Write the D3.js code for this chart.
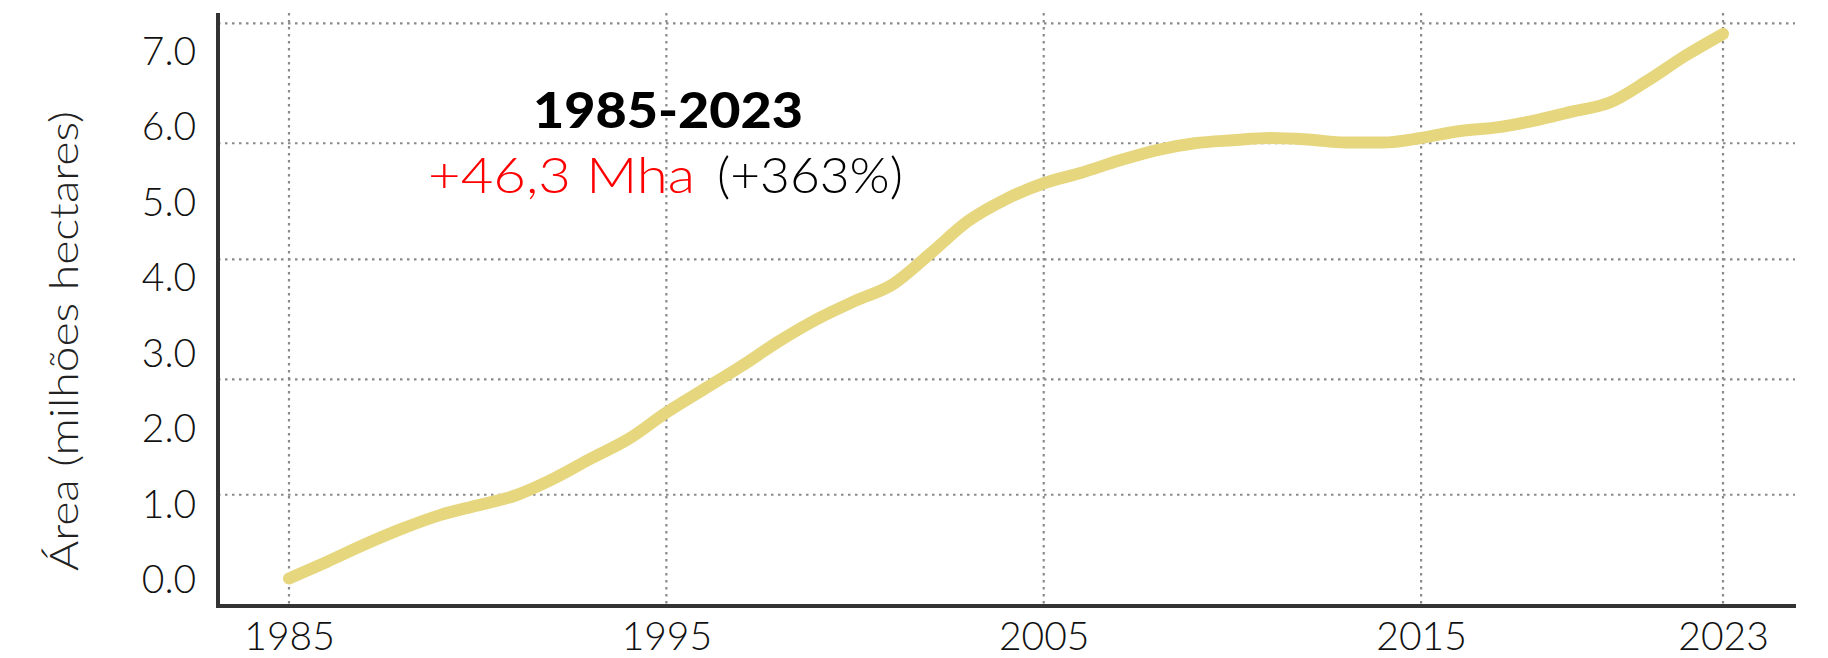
<!DOCTYPE html>
<html>
<head>
<meta charset="utf-8">
<script src="https://cdn.jsdelivr.net/npm/d3@7"></script>
<style>
  html, body { margin: 0; padding: 0; background: #fff; }
  svg { display: block; }
  text { font-family: "Lato", "Open Sans", "DejaVu Sans", sans-serif; }
</style>
</head>
<body>
<svg id="chart" width="1828" height="658"></svg>
<script>
// ---- data ----
const years = [1985,1986,1987,1988,1989,1990,1991,1992,1993,1994,1995,1996,1997,1998,1999,
               2000,2001,2002,2003,2004,2005,2006,2007,2008,2009,2010,2011,2012,2013,2014,
               2015,2016,2017,2018,2019,2020,2021,2022,2023];
const area = [0.02,0.24,0.47,0.68,0.86,0.99,1.12,1.34,1.61,1.87,2.22,2.53,2.84,3.17,3.46,
              3.70,3.92,4.33,4.76,5.05,5.26,5.40,5.56,5.70,5.79,5.83,5.86,5.84,5.80,5.80,
              5.86,5.95,6.00,6.09,6.21,6.33,6.62,6.95,7.24];
const xTicks = [1985, 1995, 2005, 2015, 2023];
const yTicks = [0, 1, 2, 3, 4, 5, 6, 7];
const gridValues = [1.13, 2.66, 4.25, 5.79, 7.38];
const yTitle = "Área (milhões hectares)";
const periodLabel = "1985-2023";
const gainLabel = "+46,3 Mha";
const pctLabel = "(+363%)";

// ---- layout ----
const svg = d3.select("#chart");
const axisX = 218, axisY = 606, plotTop = 13, plotRight = 1795;
const x = d3.scaleLinear().domain([1985, 2023]).range([289, 1723]);
const y = d3.scaleLinear().domain([0, 7]).range([580, 52]);

svg.append("rect").attr("width", 1828).attr("height", 658).attr("fill", "#fff");

// grid
const grid = svg.append("g").attr("stroke", "#8a8a8a").attr("stroke-width", 2.2)
  .attr("stroke-dasharray", "2.5,4.5").attr("fill", "none");
grid.selectAll("line.h").data(gridValues).join("line").attr("class", "h")
  .attr("x1", axisX).attr("x2", plotRight)
  .attr("y1", d => y(d)).attr("y2", d => y(d));
grid.selectAll("line.v").data(xTicks).join("line").attr("class", "v")
  .attr("x1", d => x(d)).attr("x2", d => x(d))
  .attr("y1", plotTop).attr("y2", axisY);

// line
const line = d3.line().x((d, i) => x(years[i])).y(d => y(d)).curve(d3.curveMonotoneX);
svg.append("path").datum(area)
  .attr("d", line)
  .attr("fill", "none")
  .attr("stroke", "#e6d67e")
  .attr("stroke-width", 12)
  .attr("stroke-linecap", "round")
  .attr("stroke-linejoin", "round");

// axes lines
svg.append("line").attr("x1", axisX).attr("x2", axisX).attr("y1", plotTop).attr("y2", axisY + 2)
  .attr("stroke", "#333").attr("stroke-width", 4);
svg.append("line").attr("x1", axisX - 2).attr("x2", plotRight + 1).attr("y1", axisY).attr("y2", axisY)
  .attr("stroke", "#333").attr("stroke-width", 4);

// y axis labels
const yAxis = d3.axisLeft(y).tickValues(yTicks).tickSize(0).tickPadding(49)
  .tickFormat(d3.format(".1f"));
const gy = svg.append("g").attr("transform", `translate(${axisX},0)`).call(yAxis);
gy.select(".domain").remove();
gy.selectAll("text")
  .attr("text-anchor", "middle")
  .attr("fill", "#111")
  .attr("font-size", 39)
  .attr("font-weight", 300)
  .attr("font-family", "Lato, 'Open Sans', sans-serif");

// x axis labels
const xAxis = d3.axisBottom(x).tickValues(xTicks).tickSize(0).tickPadding(16)
  .tickFormat(d3.format("d"));
const gx = svg.append("g").attr("transform", `translate(0,${axisY})`).call(xAxis);
gx.select(".domain").remove();
gx.selectAll("text")
  .attr("fill", "#111")
  .attr("font-size", 39)
  .attr("font-weight", 300)
  .attr("font-family", "Lato, 'Open Sans', sans-serif");

// y title
svg.append("text")
  .attr("transform", "translate(78,341) rotate(-90)")
  .attr("text-anchor", "middle")
  .attr("font-size", 40)
  .attr("font-weight", 300)
  .attr("fill", "#222")
  .attr("textLength", 460)
  .attr("lengthAdjust", "spacingAndGlyphs")
  .text(yTitle);

// annotation
svg.append("text")
  .attr("x", 533).attr("y", 128)
  .attr("font-size", 50)
  .attr("font-weight", 900)
  .attr("fill", "#000")
  .attr("textLength", 270)
  .attr("lengthAdjust", "spacingAndGlyphs")
  .text(periodLabel);
svg.append("text")
  .attr("x", 428).attr("y", 193)
  .attr("font-size", 49)
  .attr("font-weight", 300)
  .attr("fill", "#ff0000")
  .attr("textLength", 267)
  .attr("lengthAdjust", "spacingAndGlyphs")
  .text(gainLabel);
svg.append("text")
  .attr("x", 717).attr("y", 193)
  .attr("font-size", 49)
  .attr("font-weight", 300)
  .attr("fill", "#000")
  .attr("textLength", 186)
  .attr("lengthAdjust", "spacingAndGlyphs")
  .text(pctLabel);
</script>
</body>
</html>
